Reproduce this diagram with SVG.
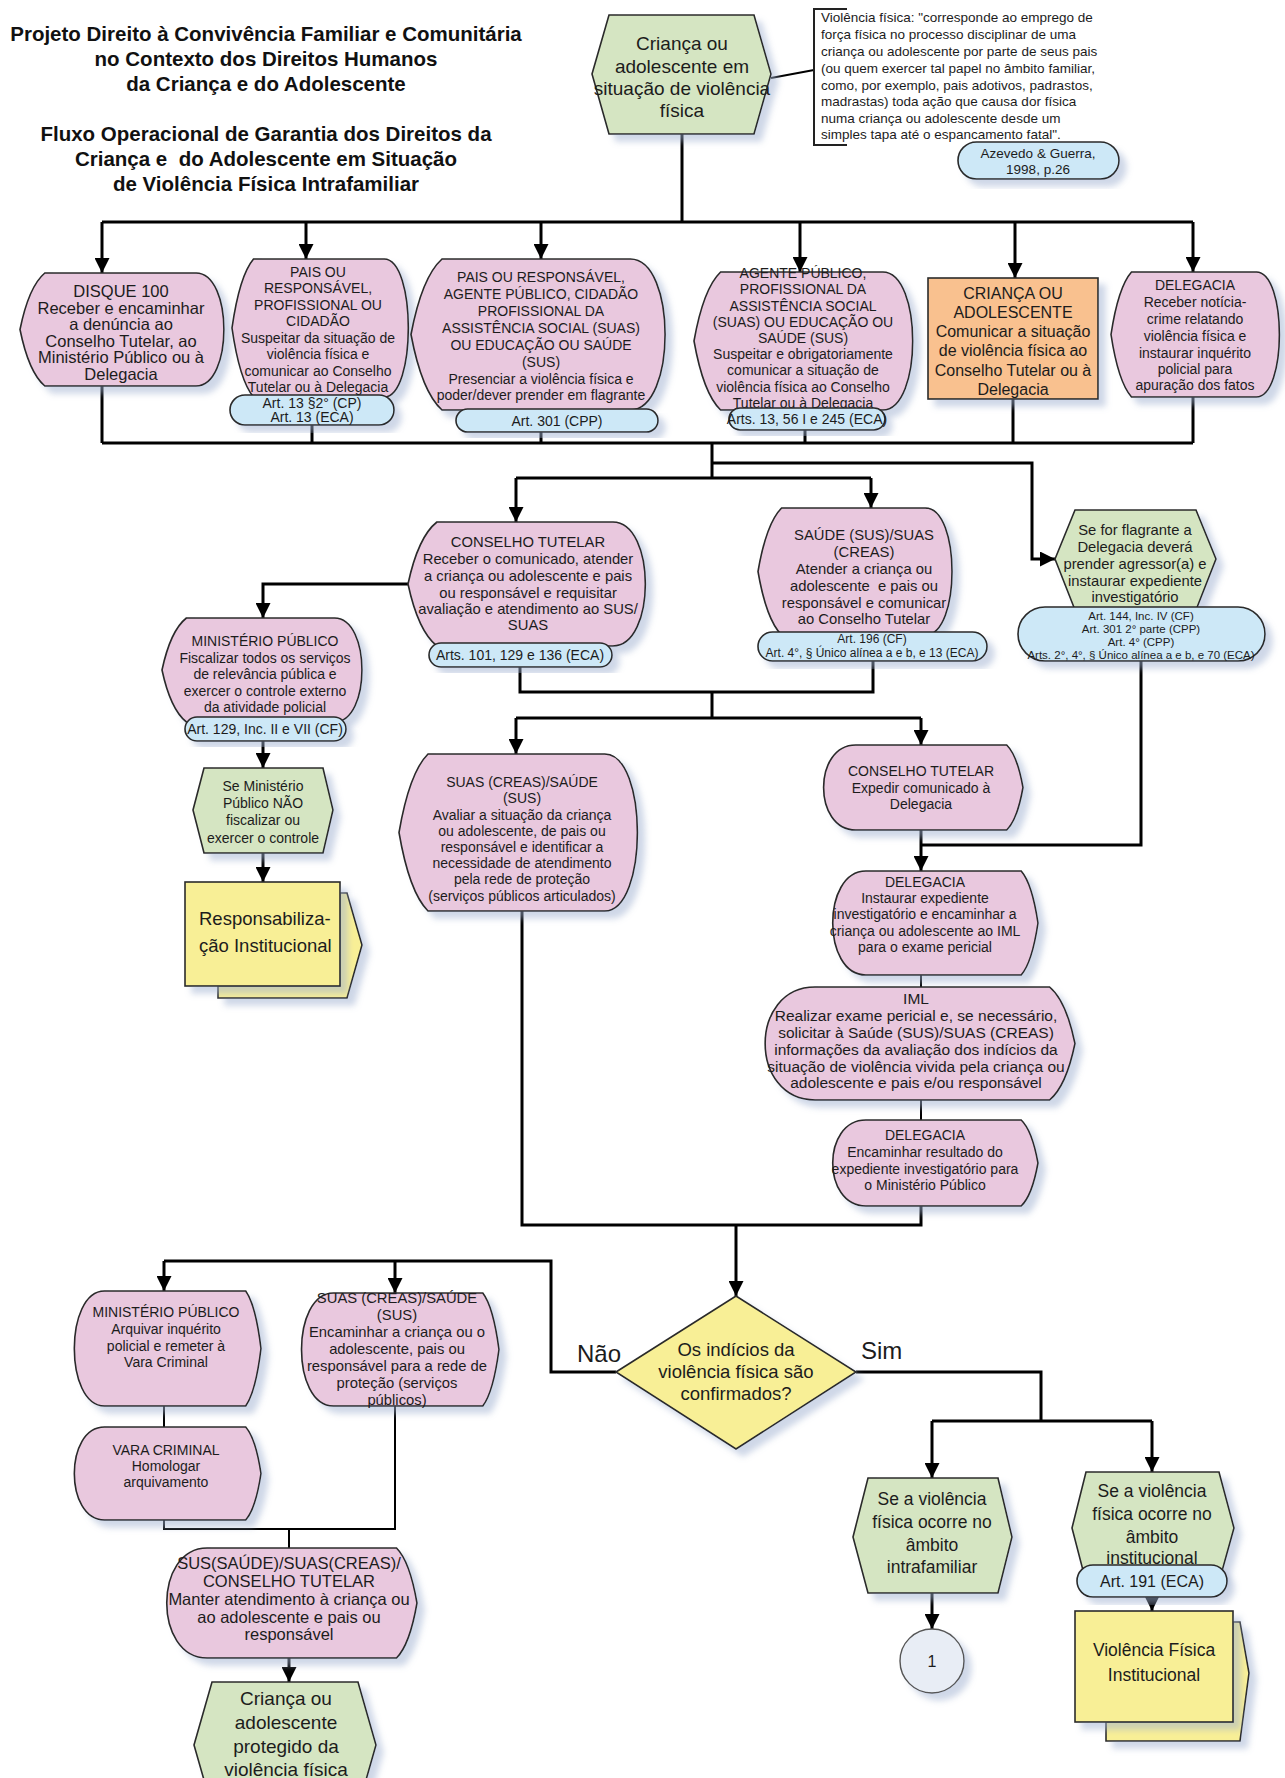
<svg xmlns="http://www.w3.org/2000/svg" width="1285" height="1778" viewBox="0 0 1285 1778">
<defs>
<filter id="sh" x="-10%" y="-10%" width="130%" height="135%">
<feGaussianBlur in="SourceAlpha" stdDeviation="3"/>
<feOffset dx="7" dy="7" result="b"/>
<feFlood flood-color="#9fb0d0" flood-opacity="0.5"/>
<feComposite in2="b" operator="in"/>
<feMerge><feMergeNode/><feMergeNode in="SourceGraphic"/></feMerge>
</filter>
<marker id="ar" viewBox="0 0 10 10" refX="10" refY="5" markerUnits="userSpaceOnUse" markerWidth="16" markerHeight="15" orient="auto">
<path d="M0,0 L10,5 L0,10 z" fill="#000"/>
</marker>
<style>
.pk{fill:#e9c8de;stroke:#2a2a2a;stroke-width:1.6;filter:url(#sh)}
.gr{fill:#d5e5c2;stroke:#2a2a2a;stroke-width:1.6;filter:url(#sh)}
.bl{fill:#cde8f7;stroke:#2a2a2a;stroke-width:1.6;filter:url(#sh)}
.yl{fill:#f8ef96;stroke:#2a2a2a;stroke-width:1.6;filter:url(#sh)}
.or{fill:#f9c18f;stroke:#2a2a2a;stroke-width:1.6;filter:url(#sh)}
.ci{fill:#e8edf5;stroke:#555;stroke-width:1.4;filter:url(#sh)}
text{font-family:"Liberation Sans",Arial,sans-serif;fill:#1c1c1c}
.t{font-size:14px;text-anchor:middle}
.t15{font-size:14.8px;text-anchor:middle}
.t155{font-size:15.5px;text-anchor:middle}
.t165{font-size:16.5px;text-anchor:middle}
.s{font-size:12px;text-anchor:middle}
.xs{font-size:11.5px;text-anchor:middle}
.m{font-size:16px;text-anchor:middle}
.dm{font-size:18.5px;text-anchor:middle}
.l{font-size:17.5px;text-anchor:middle}
.xl{font-size:19px;text-anchor:middle}
.ttl{font-size:20.5px;font-weight:bold;text-anchor:middle;fill:#111}
.def{font-size:13.5px}
.cn{fill:none;stroke:#000;stroke-width:3}
.cf{fill:none;stroke:#000;stroke-width:2}
.ca{fill:none;stroke:#000;stroke-width:3;marker-end:url(#ar)}
</style>
</defs>
<rect width="1285" height="1778" fill="#fff"/>

<g id="title">
<text class="ttl" x="266" y="41">Projeto Direito à Convivência Familiar e Comunitária</text>
<text class="ttl" x="266" y="66">no Contexto dos Direitos Humanos</text>
<text class="ttl" x="266" y="91">da Criança e do Adolescente</text>
<text class="ttl" x="266" y="141">Fluxo Operacional de Garantia dos Direitos da</text>
<text class="ttl" x="266" y="166" xml:space="preserve">Criança e  do Adolescente em Situação</text>
<text class="ttl" x="266" y="191">de Violência Física Intrafamiliar</text>
</g>

<g id="connectors">
<path class="cf" d="M771,78 L814,70"/>
<path class="cn" d="M682,134 V222 M102,222 H1193"/>
<path class="ca" d="M102,222 V273"/>
<path class="ca" d="M306,222 V259"/>
<path class="ca" d="M541,222 V259"/>
<path class="ca" d="M800,222 V272"/>
<path class="ca" d="M1015,222 V278"/>
<path class="ca" d="M1193,222 V272"/>
<path class="cn" d="M102,443 H1193 M102,386 V443 M312,425 V443 M541,432 V443 M805,429 V443 M1013,399 V443 M1193,397 V443 M712,443 V478"/>
<path class="ca" d="M712,463 H1032 V559 H1055"/>
<path class="cn" d="M516,478 H871"/>
<path class="ca" d="M516,478 V522"/>
<path class="ca" d="M871,478 V508"/>
<path class="ca" d="M408,584 H263 V618"/>
<path class="cn" d="M520,667 V692 H873 V661 M712,692 V718 M516,718 H921"/>
<path class="ca" d="M516,718 V754"/>
<path class="ca" d="M921,718 V745"/>
<path class="ca" d="M263,741 V768"/>
<path class="ca" d="M263,853 V882"/>
<path class="ca" d="M921,830 V871"/>
<path class="cn" d="M1141,661 V845 H921"/>
<path class="cf" d="M921,975 V987 M921,1100 V1120"/>
<path class="cn" d="M921,1206 V1225 H522 V911"/>
<path class="ca" d="M736,1225 V1296"/>
<path class="cn" d="M616,1372 H551 V1261 H164"/>
<path class="ca" d="M164,1261 V1291"/>
<path class="ca" d="M395,1261 V1293"/>
<path class="cn" d="M856,1372 H1041 V1421 M932,1421 H1152"/>
<path class="ca" d="M932,1421 V1478"/>
<path class="ca" d="M1152,1421 V1472"/>
<path class="ca" d="M932,1593 V1629"/>
<path class="ca" d="M1152,1597 V1611"/>
<path class="cf" d="M164,1406 V1427 M164,1520 V1529 H395 V1406 M289,1529 V1548"/>
<path class="ca" d="M289,1658 V1682"/>
</g>

<g id="n-inicio">
<path class="gr" d="M592,74 L609,15 L754,15 L771,74 L754,134 L609,134 Z"/>
<text class="xl" x="682" y="50">Criança ou</text>
<text class="xl" x="682" y="73">adolescente em</text>
<text class="xl" x="682" y="95">situação de violência</text>
<text class="xl" x="682" y="117">física</text>
</g>

<g id="n-definicao">
<path d="M847,9 L814,9 L814,145 L847,145" fill="none" stroke="#222" stroke-width="2"/>
<text class="def" x="821" y="22">Violência física: "corresponde ao emprego de</text>
<text class="def" x="821" y="39">força física no processo disciplinar de uma</text>
<text class="def" x="821" y="56">criança ou adolescente por parte de seus pais</text>
<text class="def" x="821" y="73">(ou quem exercer tal papel no âmbito familiar,</text>
<text class="def" x="821" y="90">como, por exemplo, pais adotivos, padrastos,</text>
<text class="def" x="821" y="106">madrastas) toda ação que causa dor física</text>
<text class="def" x="821" y="123">numa criança ou adolescente desde um</text>
<text class="def" x="821" y="139">simples tapa até o espancamento fatal".</text>
<rect class="bl" x="958" y="142" width="161" height="37" rx="18.5"/>
<text class="def" x="1038" y="158" text-anchor="middle">Azevedo &amp; Guerra,</text>
<text class="def" x="1038" y="174" text-anchor="middle">1998, p.26</text>
</g>

<g id="n-disque">
<path class="pk" d="M44.8,273 L196,273 C233.2,273 233.2,386 196,386 L44.8,386 Q28.7,372.4 20,329.5 Q28.7,286.6 44.8,273Z"/>
<text class="t165" x="121" y="297">DISQUE 100</text>
<text class="t165" x="121" y="314">Receber e encaminhar</text>
<text class="t165" x="121" y="330">a denúncia ao</text>
<text class="t165" x="121" y="347">Conselho Tutelar, ao</text>
<text class="t165" x="121" y="363">Ministério Público ou à</text>
<text class="t165" x="121" y="380">Delegacia</text>
</g>

<g id="n-pais">
<path class="pk" d="M253.5,259 L384.1,259 C416.4,259 416.4,397 384.1,397 L253.5,397 Q239.5,380.4 232,328 Q239.5,275.6 253.5,259Z"/>
<text class="t" x="318" y="277">PAIS OU</text>
<text class="t" x="318" y="293">RESPONSÁVEL,</text>
<text class="t" x="318" y="310">PROFISSIONAL OU</text>
<text class="t" x="318" y="326">CIDADÃO</text>
<text class="t" x="318" y="343">Suspeitar da situação de</text>
<text class="t" x="318" y="359">violência física e</text>
<text class="t" x="318" y="376">comunicar ao Conselho</text>
<text class="t" x="318" y="392">Tutelar ou à Delegacia</text>
<rect class="bl" x="230" y="395" width="164" height="30" rx="15"/>
<text class="t" x="312" y="408">Art. 13 §2° (CP)</text>
<text class="t" x="312" y="422">Art. 13 (ECA)</text>
</g>

<g id="n-agente-cidadao">
<path class="pk" d="M442,259 L630.3,259 C676.7,259 676.7,410 630.3,410 L442,410 Q421.8,391.9 411,334.5 Q421.8,277.1 442,259Z"/>
<text class="t" x="541" y="282">PAIS OU RESPONSÁVEL,</text>
<text class="t" x="541" y="299">AGENTE PÚBLICO, CIDADÃO</text>
<text class="t" x="541" y="316">PROFISSIONAL DA</text>
<text class="t" x="541" y="333">ASSISTÊNCIA SOCIAL (SUAS)</text>
<text class="t" x="541" y="350">OU EDUCAÇÃO OU SAÚDE</text>
<text class="t" x="541" y="367">(SUS)</text>
<text class="t" x="541" y="384">Presenciar a violência física e</text>
<text class="t" x="541" y="400">poder/dever prender em flagrante</text>
<rect class="bl" x="456" y="409" width="202" height="23" rx="11.5"/>
<text class="t" x="557" y="426">Art. 301 (CPP)</text>
</g>

<g id="n-agente-publico">
<path class="pk" d="M720.6,272 L882.7,272 C922.7,272 922.7,410 882.7,410 L720.6,410 Q703.3,393.4 694,341 Q703.3,288.6 720.6,272Z"/>
<text class="t" x="803" y="278">AGENTE PÚBLICO,</text>
<text class="t" x="803" y="294">PROFISSIONAL DA</text>
<text class="t" x="803" y="311">ASSISTÊNCIA SOCIAL</text>
<text class="t" x="803" y="327">(SUAS) OU EDUCAÇÃO OU</text>
<text class="t" x="803" y="343">SAÚDE (SUS)</text>
<text class="t" x="803" y="359">Suspeitar e obrigatoriamente</text>
<text class="t" x="803" y="375">comunicar a situação de</text>
<text class="t" x="803" y="392">violência física ao Conselho</text>
<text class="t" x="803" y="408">Tutelar ou à Delegacia</text>
<rect class="bl" x="729" y="408" width="156" height="22" rx="11"/>
<text class="t" x="807" y="424">Arts. 13, 56 I e 245 (ECA)</text>
</g>

<g id="n-crianca">
<rect class="or" x="928" y="278" width="170" height="121"/>
<text class="m" x="1013" y="299">CRIANÇA OU</text>
<text class="m" x="1013" y="318">ADOLESCENTE</text>
<text class="m" x="1013" y="337">Comunicar a situação</text>
<text class="m" x="1013" y="356">de violência física ao</text>
<text class="m" x="1013" y="376">Conselho Tutelar ou à</text>
<text class="m" x="1013" y="395">Delegacia</text>
</g>

<g id="n-delegacia-1">
<path class="pk" d="M1131.5,272 L1256.3,272 C1287.1,272 1287.1,397 1256.3,397 L1131.5,397 Q1118.2,382 1111,334.5 Q1118.2,287 1131.5,272Z"/>
<text class="t" x="1195" y="290">DELEGACIA</text>
<text class="t" x="1195" y="307">Receber notícia-</text>
<text class="t" x="1195" y="324">crime relatando</text>
<text class="t" x="1195" y="341">violência física e</text>
<text class="t" x="1195" y="358">instaurar inquérito</text>
<text class="t" x="1195" y="374">policial para</text>
<text class="t" x="1195" y="390">apuração dos fatos</text>
</g>

<g id="n-conselho-1">
<path class="pk" d="M436.9,522 L612.8,522 C656.2,522 656.2,646 612.8,646 L436.9,646 Q418.1,631.1 408,584 Q418.1,536.9 436.9,522Z"/>
<text class="t15" x="528" y="547">CONSELHO TUTELAR</text>
<text class="t15" x="528" y="564">Receber o comunicado, atender</text>
<text class="t15" x="528" y="581">a criança ou adolescente e pais</text>
<text class="t15" x="528" y="598">ou responsável e requisitar</text>
<text class="t15" x="528" y="614">avaliação e atendimento ao SUS/</text>
<text class="t15" x="528" y="630">SUAS</text>
<rect class="bl" x="429" y="643" width="183" height="24" rx="12"/>
<text class="t" x="520" y="660">Arts. 101, 129 e 136 (ECA)</text>
</g>

<g id="n-saude-1">
<path class="pk" d="M781.6,508 L925.4,508 C960.9,508 960.9,635 925.4,635 L781.6,635 Q766.3,619.8 758,571.5 Q766.3,523.2 781.6,508Z"/>
<text class="t15" x="864" y="540">SAÚDE (SUS)/SUAS</text>
<text class="t15" x="864" y="557">(CREAS)</text>
<text class="t15" x="864" y="574">Atender a criança ou</text>
<text class="t15" x="864" y="591" xml:space="preserve">adolescente  e pais ou</text>
<text class="t15" x="864" y="608">responsável e comunicar</text>
<text class="t15" x="864" y="624">ao Conselho Tutelar</text>
<rect class="bl" x="758" y="632" width="229" height="29" rx="14.5"/>
<text class="s" x="872" y="643">Art. 196 (CF)</text>
<text class="s" x="872" y="657">Art. 4°, § Único alínea a e b, e 13 (ECA)</text>
</g>

<g id="n-flagrante">
<path class="gr" d="M1055,559 L1075,510 L1196,510 L1216,559 L1196,610 L1075,610 Z"/>
<text class="t15" x="1135" y="535">Se for flagrante a</text>
<text class="t15" x="1135" y="552">Delegacia deverá</text>
<text class="t15" x="1135" y="569">prender agressor(a) e</text>
<text class="t15" x="1135" y="586">instaurar expediente</text>
<text class="t15" x="1135" y="602">investigatório</text>
<rect class="bl" x="1018" y="607" width="247" height="54" rx="27"/>
<text class="xs" x="1141" y="620">Art. 144, Inc. IV (CF)</text>
<text class="xs" x="1141" y="633">Art. 301 2° parte (CPP)</text>
<text class="xs" x="1141" y="646">Art. 4° (CPP)</text>
<text class="xs" x="1141" y="659">Arts. 2°, 4°, § Único alínea a e b, e 70 (ECA)</text>
</g>

<g id="n-mp-1">
<path class="pk" d="M186.4,618 L334.5,618 C371.1,618 371.1,722 334.5,722 L186.4,722 Q170.5,709.5 162,670 Q170.5,630.5 186.4,618Z"/>
<text class="t" x="265" y="646">MINISTÉRIO PÚBLICO</text>
<text class="t" x="265" y="663">Fiscalizar todos os serviços</text>
<text class="t" x="265" y="679">de relevância pública e</text>
<text class="t" x="265" y="696">exercer o controle externo</text>
<text class="t" x="265" y="712">da atividade policial</text>
<rect class="bl" x="185" y="717" width="161" height="24" rx="12"/>
<text class="t" x="265" y="734">Art. 129, Inc. II e VII (CF)</text>
</g>

<g id="n-se-mp">
<path class="gr" d="M193,810 L204,768 L323,768 L333,810 L323,853 L204,853 Z"/>
<text class="t" x="263" y="791">Se Ministério</text>
<text class="t" x="263" y="808">Público NÃO</text>
<text class="t" x="263" y="825">fiscalizar ou</text>
<text class="t" x="263" y="843">exercer o controle</text>
</g>

<g id="n-resp-inst">
<path class="yl" d="M340,893 L347,893 L362,945 L347,998 L218,998 L218,986 L340,986 Z"/>
<rect class="yl" x="185" y="882" width="155" height="104"/>
<text x="199" y="925" style="font-size:18.5px">Responsabiliza-</text>
<text x="199" y="952" style="font-size:18.5px">ção Institucional</text>
</g>

<g id="n-suas-1">
<path class="pk" d="M428,754 L604.7,754 C648.3,754 648.3,911 604.7,911 L428,911 Q409.2,892.2 399,832.5 Q409.2,772.8 428,754Z"/>
<text class="t" x="522" y="787">SUAS (CREAS)/SAÚDE</text>
<text class="t" x="522" y="803">(SUS)</text>
<text class="t" x="522" y="820">Avaliar a situação da criança</text>
<text class="t" x="522" y="836">ou adolescente, de pais ou</text>
<text class="t" x="522" y="852">responsável e identificar a</text>
<text class="t" x="522" y="868">necessidade de atendimento</text>
<text class="t" x="522" y="884">pela rede de proteção</text>
<text class="t" x="522" y="901">(serviços públicos articulados)</text>
</g>

<g id="n-conselho-2">
<path class="pk" d="M1006.7,745 L855.7,745 C812.9,745 812.9,830 855.7,830 L1006.7,830 Q1017.3,819.8 1023,787.5 Q1017.3,755.2 1006.7,745Z"/>
<text class="t" x="921" y="776">CONSELHO TUTELAR</text>
<text class="t" x="921" y="793">Expedir comunicado à</text>
<text class="t" x="921" y="809">Delegacia</text>
</g>

<g id="n-delegacia-2">
<path class="pk" d="M1021.2,871 L865.8,871 C821.7,871 821.7,975 865.8,975 L1021.2,975 Q1032.1,962.5 1038,923 Q1032.1,883.5 1021.2,871Z"/>
<text class="t" x="925" y="887">DELEGACIA</text>
<text class="t" x="925" y="903">Instaurar expediente</text>
<text class="t" x="925" y="919">investigatório e encaminhar a</text>
<text class="t" x="925" y="936">criança ou adolescente ao IML</text>
<text class="t" x="925" y="952">para o exame pericial</text>
</g>

<g id="n-iml">
<path class="pk" d="M1049.6,987 L815.1,987 C748.5,987 748.5,1100 815.1,1100 L1049.6,1100 Q1066.1,1086.4 1075,1043.5 Q1066.1,1000.6 1049.6,987Z"/>
<text class="t155" x="916" y="1004">IML</text>
<text class="t155" x="916" y="1021">Realizar exame pericial e, se necessário,</text>
<text class="t155" x="916" y="1038">solicitar à Saúde (SUS)/SUAS (CREAS)</text>
<text class="t155" x="916" y="1055">informações da avaliação dos indícios da</text>
<text class="t155" x="916" y="1072">situação de violência vivida pela criança ou</text>
<text class="t155" x="916" y="1088">adolescente e pais e/ou responsável</text>
</g>

<g id="n-delegacia-3">
<path class="pk" d="M1021.2,1120 L865.8,1120 C821.7,1120 821.7,1206 865.8,1206 L1021.2,1206 Q1032.1,1195.7 1038,1163 Q1032.1,1130.3 1021.2,1120Z"/>
<text class="t" x="925" y="1140">DELEGACIA</text>
<text class="t" x="925" y="1157">Encaminhar resultado do</text>
<text class="t" x="925" y="1174">expediente investigatório para</text>
<text class="t" x="925" y="1190">o Ministério Público</text>
</g>

<g id="n-decisao">
<path class="yl" d="M616,1372 L736,1296 L856,1372 L736,1449 Z"/>
<text class="dm" x="736" y="1356">Os indícios da</text>
<text class="dm" x="736" y="1378">violência física são</text>
<text class="dm" x="736" y="1400">confirmados?</text>
<text x="621" y="1362" style="font-size:24px;text-anchor:end">Não</text>
<text x="861" y="1359" style="font-size:24px">Sim</text>
</g>

<g id="n-intrafamiliar">
<path class="gr" d="M853,1537 L868,1478 L998,1478 L1012,1537 L998,1593 L868,1593 Z"/>
<text class="l" x="932" y="1505">Se a violência</text>
<text class="l" x="932" y="1528">física ocorre no</text>
<text class="l" x="932" y="1551">âmbito</text>
<text class="l" x="932" y="1573">intrafamiliar</text>
</g>

<g id="n-conector-1">
<circle class="ci" cx="932" cy="1661" r="32"/>
<text class="m" x="932" y="1667">1</text>
</g>

<g id="n-institucional">
<path class="gr" d="M1072,1528 L1086,1472 L1219,1472 L1234,1528 L1219,1582 L1086,1582 Z"/>
<text class="l" x="1152" y="1497">Se a violência</text>
<text class="l" x="1152" y="1520">física ocorre no</text>
<text class="l" x="1152" y="1543">âmbito</text>
<text class="l" x="1152" y="1564">institucional</text>
<rect class="bl" x="1077" y="1565" width="150" height="32" rx="16"/>
<text class="m" x="1152" y="1587">Art. 191 (ECA)</text>
</g>

<g id="n-viol-inst">
<path class="yl" d="M1233,1622 L1240,1622 L1249,1673 L1240,1741 L1106,1741 L1106,1722 L1233,1722 Z"/>
<rect class="yl" x="1075" y="1611" width="158" height="111"/>
<text class="l" x="1154" y="1656">Violência Física</text>
<text class="l" x="1154" y="1681">Institucional</text>
</g>

<g id="n-mp-2">
<path class="pk" d="M245.7,1291 L104.4,1291 C64.3,1291 64.3,1406 104.4,1406 L245.7,1406 Q255.7,1392.2 261,1348.5 Q255.7,1304.8 245.7,1291Z"/>
<text class="t" x="166" y="1317">MINISTÉRIO PÚBLICO</text>
<text class="t" x="166" y="1334">Arquivar inquérito</text>
<text class="t" x="166" y="1351">policial e remeter à</text>
<text class="t" x="166" y="1367">Vara Criminal</text>
</g>

<g id="n-vara">
<path class="pk" d="M245.7,1427 L104.4,1427 C64.3,1427 64.3,1520 104.4,1520 L245.7,1520 Q255.7,1508.8 261,1473.5 Q255.7,1438.2 245.7,1427Z"/>
<text class="t" x="166" y="1455">VARA CRIMINAL</text>
<text class="t" x="166" y="1471">Homologar</text>
<text class="t" x="166" y="1487">arquivamento</text>
</g>

<g id="n-suas-2">
<path class="pk" d="M482.8,1293 L333.4,1293 C290.9,1293 290.9,1406 333.4,1406 L482.8,1406 Q493.3,1392.4 499,1349.5 Q493.3,1306.6 482.8,1293Z"/>
<text class="t15" x="397" y="1303">SUAS (CREAS)/SAÚDE</text>
<text class="t15" x="397" y="1320">(SUS)</text>
<text class="t15" x="397" y="1337">Encaminhar a criança ou o</text>
<text class="t15" x="397" y="1354">adolescente, pais ou</text>
<text class="t15" x="397" y="1371">responsável para a rede de</text>
<text class="t15" x="397" y="1388">proteção (serviços</text>
<text class="t15" x="397" y="1405">públicos)</text>
</g>

<g id="n-sus-manter">
<path class="pk" d="M396.5,1548 L207.1,1548 C153.3,1548 153.3,1658 207.1,1658 L396.5,1658 Q409.8,1644.8 417,1603 Q409.8,1561.2 396.5,1548Z"/>
<text class="t165" x="289" y="1569">SUS(SAÚDE)/SUAS(CREAS)/</text>
<text class="t165" x="289" y="1587">CONSELHO TUTELAR</text>
<text class="t165" x="289" y="1605">Manter atendimento à criança ou</text>
<text class="t165" x="289" y="1623">ao adolescente e pais ou</text>
<text class="t165" x="289" y="1640">responsável</text>
</g>

<g id="n-protegido">
<path class="gr" d="M194,1745 L212,1682 L358,1682 L376,1745 L358,1808 L212,1808 Z"/>
<text class="xl" x="286" y="1705">Criança ou</text>
<text class="xl" x="286" y="1729">adolescente</text>
<text class="xl" x="286" y="1753">protegido da</text>
<text class="xl" x="286" y="1776">violência física</text>
</g>
</svg>
